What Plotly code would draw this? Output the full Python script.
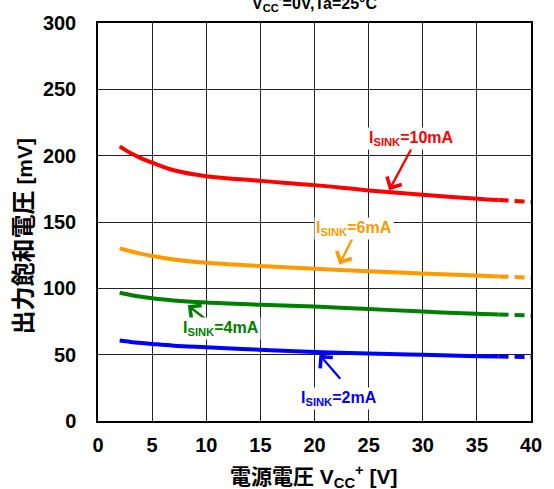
import plotly.graph_objects as go

# Supply voltage (V) – solid measured portion and dashed extension
vcc = [2, 3, 4, 5, 7, 10, 15, 20, 25, 30, 35, 37]
vcc_ext = [37, 40]

# Output saturation voltage (mV)
i10 = [207, 202, 198, 194.7, 189, 184.5, 181, 177.8, 173.8, 170.5, 167.5, 166.5]
i10_ext = [166.5, 165.3]
i6 = [130.1, 128, 126, 124.4, 121.8, 119.2, 116.8, 114.7, 112.9, 111.2, 109.6, 109]
i6_ext = [109, 108]
i4 = [96.7, 95, 93.6, 92.5, 90.8, 89.3, 87.7, 86.3, 84.4, 82.5, 80.8, 80.3]
i4_ext = [80.3, 79.5]
i2 = [60.6, 59.6, 58.8, 58.1, 56.8, 55.6, 53.7, 52, 50.9, 49.9, 48.9, 48.6]
i2_ext = [48.6, 48.1]

series = [
    ("I<sub>SINK</sub>=10mA", i10, i10_ext, "#ff0000"),
    ("I<sub>SINK</sub>=6mA", i6, i6_ext, "#ff9900"),
    ("I<sub>SINK</sub>=4mA", i4, i4_ext, "#008000"),
    ("I<sub>SINK</sub>=2mA", i2, i2_ext, "#0000ff"),
]

# label text position and arrow (tail -> head) in data coordinates
labels = [
    (29.0, 212.7, 29.1, 207.5, 26.9, 174.0),
    (23.65, 145.2, 23.55, 138.4, 22.3, 118.0),
    (11.33, 70.0, 10.3, 74.5, 8.3, 87.2),
    (22.3, 17.0, 22.5, 30.7, 20.45, 50.0),
]

FONT = "Liberation Sans, Arial, Noto Sans CJK JP, sans-serif"

fig = go.Figure()
for name, ys, ext, col in series:
    fig.add_trace(go.Scatter(x=vcc, y=ys, mode="lines", line=dict(color=col, width=4, shape="spline"),
                             showlegend=False, hoverinfo="skip"))
    fig.add_trace(go.Scatter(x=vcc_ext, y=ext, mode="lines", line=dict(color=col, width=4, dash="10px,6px"),
                             showlegend=False, hoverinfo="skip"))

for (name, ys, ext, col), (tx, ty, ax, ay, hx, hy) in zip(series, labels):
    fig.add_annotation(x=hx, y=hy, ax=ax, ay=ay, xref="x", yref="y", axref="x", ayref="y",
                       text="", showarrow=True, arrowhead=4, arrowsize=1.4, arrowwidth=2.3,
                       arrowcolor=col)
    fig.add_annotation(x=tx, y=ty, xref="x", yref="y", text=name, showarrow=False,
                       font=dict(family=FONT, size=16, color=col, weight="bold"),
                       bgcolor="white", borderpad=1)

# chart condition (top partially outside the page, as in the reference)
fig.add_annotation(x=0.5, y=1, xref="paper", yref="paper", yanchor="bottom", yshift=7,
                   text="V<sub>CC</sub><sup>-</sup>=0V,Ta=25°C", showarrow=False,
                   font=dict(family=FONT, size=16, color="black", weight="bold"))

# axis titles
fig.add_annotation(x=-0.1731, y=0.4638, xref="paper", yref="paper", xanchor="center", yanchor="middle",
                   textangle=-90, showarrow=False,
                   text='<span style="font-size:24px">出力飽和電圧</span> [mV]',
                   font=dict(family=FONT, size=21, color="black", weight="bold"))
fig.add_annotation(x=0.497, y=-0.1405, xref="paper", yref="paper", xanchor="center", yanchor="middle",
                   showarrow=False,
                   text="電源電圧 V<sub>CC</sub><sup>+</sup> [V]",
                   font=dict(family=FONT, size=21, color="black", weight="bold"))

axis_common = dict(showgrid=True, gridcolor="#222", gridwidth=1, zeroline=False,
                   showline=True, linecolor="black", linewidth=1.5, mirror=True,
                   ticks="", tickfont=dict(family=FONT, size=20, color="black", weight="bold"))

fig.update_xaxes(range=[0, 40], dtick=5, tick0=0, ticklabelstandoff=5, **axis_common)
fig.update_yaxes(range=[0, 300], dtick=50, tick0=0, ticklabelstandoff=16, **axis_common)

fig.update_layout(width=554, height=489, margin=dict(l=98, r=17, t=20, b=68),
                  plot_bgcolor="white", paper_bgcolor="white")

fig.write_html("out.html")
